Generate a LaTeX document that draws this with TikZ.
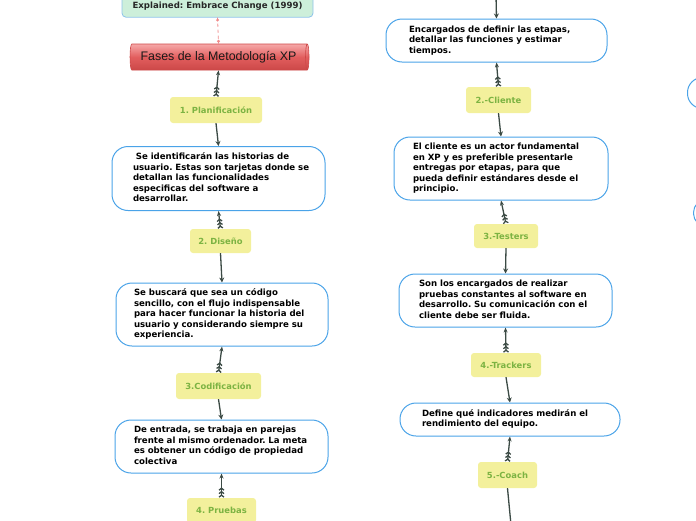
\documentclass[tikz,border=0pt]{standalone}
\usepackage{fontspec}
\usetikzlibrary{shapes.geometric, arrows.meta}
\newfontfamily\boxfont{DejaVu Sans}
\newfontfamily\titlefont{Liberation Sans}
\definecolor{linkgray}{HTML}{3B4A44}
\definecolor{descblue}{HTML}{4AA3E8}
\definecolor{phaseyellow}{HTML}{F3F09C}
\definecolor{phasegreen}{HTML}{7CB342}
\definecolor{mintfill}{HTML}{CDEFDA}
\definecolor{mintdraw}{HTML}{8EC3EA}
\definecolor{redtop}{HTML}{F6A9A9}
\definecolor{redmid}{HTML}{E25E5E}
\definecolor{redbottom}{HTML}{CC4848}
\definecolor{dashpink}{HTML}{F08A8A}
\frenchspacing
\newcommand{\desclines}[1]{\begin{tabular}{@{}l@{}}#1\end{tabular}}
\tikzset{
x=1pt, y=-1pt, % one unit is one pixel of the sketch
link/.style={draw=linkgray, line width=1.3pt}, % every connector
into/.style={link, -{Stealth[length=5pt,width=5pt]}}, % from a phase down to its text
fork/.style={link, {Straight Barb[reversed,length=2pt,width=5pt] Straight Barb[reversed,length=2pt,width=5pt] Straight Barb[reversed,length=2pt,width=5pt]}-{Stealth[length=5pt,width=4pt]}}, % from a phase up to the box above
desc/.style={draw=descblue, line width=1pt, fill=white, rounded corners=16pt, align=left, inner xsep=0pt, font=\boxfont\bfseries\fontsize{8.6}{10.6}\selectfont}, % description boxes
phase/.style={fill=phaseyellow, rounded corners=3pt, text=phasegreen, font=\boxfont\bfseries\fontsize{8.4}{9}\selectfont}, % yellow phase labels
}
\begin{document}
\begin{tikzpicture}
        \clip (0,0) rectangle (696,520);

        % left column
        \node[draw=mintdraw, fill=mintfill, rounded corners=4pt, line width=0.8pt, minimum width=191pt, inner ysep=7pt, text=black!85, font=\boxfont\bfseries\fontsize{8.6}{9}\selectfont] (book) at (217.5,6) {Explained: Embrace Change (1999)};
        \node[cylinder, shape border rotate=0, shape aspect=0.3, minimum width=26pt, minimum height=179pt, inner sep=0pt, draw=redbottom, line width=0.6pt, top color=redtop, bottom color=redbottom, middle color=redmid, text=black!90, font=\titlefont\fontsize{12.4}{14}\selectfont] (fases) at (218.5,57) {Fases de la Metodología XP};
        \node[phase, minimum width=92pt, minimum height=26pt] (plan) at (216,110) {1. Planificación};
        \node[desc, minimum width=213pt, minimum height=64pt, text width=171pt] (dplan) at (218.5,178.5) {\desclines{\ Se identificarán las historias de\\usuario. Estas son tarjetas donde se\\detallan las funcionalidades\\especificas del software a\\desarrollar.}};
        \node[phase, minimum width=61pt, minimum height=24pt] (diseno) at (220.5,241) {2. Diseño};
        \node[desc, minimum width=212pt, minimum height=63pt, text width=176pt] (ddiseno) at (222,314.5) {\desclines{Se buscará que sea un código\\sencillo, con el flujo indispensable\\para hacer funcionar la historia del\\usuario y considerando siempre su\\experiencia.}};
        \node[phase, minimum width=85pt, minimum height=26pt] (codif) at (218.5,386) {3.Codificación};
        \node[desc, minimum width=213pt, minimum height=53pt, text width=175pt] (dcodif) at (221.5,446.5) {\desclines{De entrada, se trabaja en parejas\\frente al mismo ordenador. La meta\\es obtener un código de propiedad\\colectiva}};
        \node[phase, minimum width=69pt, minimum height=25pt] (pruebas) at (221.5,510.5) {4. Pruebas};

        % right column
        \coordinate (rtop) at (496,-5);
        \node[desc, minimum width=221pt, minimum height=43pt, text width=175pt] (dprog) at (496.5,40.5) {\desclines{Encargados de definir las etapas,\\detallar las funciones y estimar\\tiempos.}};
        \node[phase, minimum width=65pt, minimum height=26pt] (cliente) at (498.5,100) {2.-Cliente};
        \node[desc, minimum width=214pt, minimum height=63pt, text width=176pt] (dcliente) at (501,168.5) {\desclines{El cliente es un actor fundamental\\en XP y es preferible presentarle\\entregas por etapas, para que\\pueda definir estándares desde el\\principio.}};
        \node[phase, minimum width=64pt, minimum height=24pt] (testers) at (506,236) {3.-Testers};
        \node[desc, minimum width=213pt, minimum height=53pt, text width=173pt] (dtesters) at (505.5,300.5) {\desclines{Son los encargados de realizar\\pruebas constantes al software en\\desarrollo. Su comunicación con el\\cliente debe ser fluida.}};
        \node[phase, minimum width=70pt, minimum height=24pt] (trackers) at (506,365) {4.-Trackers};
        \node[desc, minimum width=220pt, minimum height=33pt, text width=176pt] (dtrackers) at (510,419.5) {\desclines{Define qué indicadores medirán el\\rendimiento del equipo.}};
        \node[phase, minimum width=59pt, minimum height=26pt] (coach) at (507.5,475) {5.-Coach};
        \coordinate (rbottom) at (511,525);

        % boxes of the next column, cut by the edge
        \node[draw=descblue, line width=1pt, fill=white, rounded corners=15pt, minimum width=200pt, minimum height=31pt, anchor=west] (nextA) at (687,93) {};
        \node[draw=descblue, line width=1pt, fill=white, rounded corners=13pt, minimum width=200pt, minimum height=27pt, anchor=west] (nextB) at (693,213) {};

        \draw[dashpink, line width=0.9pt, dashed] (book.south) -- (fases.north);
        \fill[dashpink] (book.south) ++(0,2.5) circle (1.6pt) (fases.north) ++(0,-2.5) circle (1.6pt);

        \draw[fork] (plan.north) -- (fases.south);
        \draw[into] (plan.south) -- (dplan.north);
        \draw[fork] (diseno.north) -- (dplan.south);
        \draw[into] (diseno.south) -- (ddiseno.north);
        \draw[fork] (codif.north) -- (ddiseno.south);
        \draw[into] (codif.south) -- (dcodif.north);
        \draw[fork] (pruebas.north) -- (dcodif.south);

        \draw[into] (rtop) -- (dprog.north);
        \draw[fork] (cliente.north) -- (dprog.south);
        \draw[into] (cliente.south) -- (dcliente.north);
        \draw[fork] (testers.north) -- (dcliente.south);
        \draw[into] (testers.south) -- (dtesters.north);
        \draw[fork] (trackers.north) -- (dtesters.south);
        \draw[into] (trackers.south) -- (dtrackers.north);
        \draw[fork] (coach.north) -- (dtrackers.south);
        \draw[link] (coach.south) -- (rbottom);
    \end{tikzpicture}
\end{document}
